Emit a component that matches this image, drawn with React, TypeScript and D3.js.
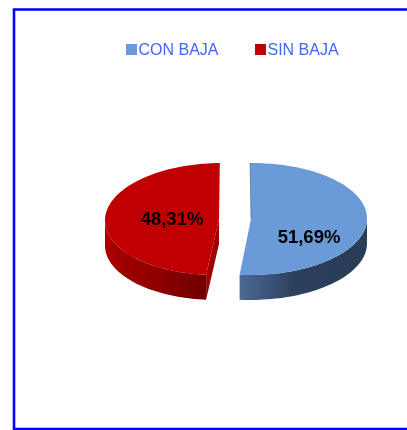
import React from "react";
import * as d3 from "d3";

const categories = ["CON BAJA", "SIN BAJA"];
const shares = [51.69, 48.31];
const shareLabels = ["51,69%", "48,31%"];

const topColors = ["#6a9ad8", "#c00000"];
const wallColors = ["#3a5a82", "#a00000"];
const sideStops = [
  ["#4a6b94", "#2b3f5c", "#2a3c56"],
  ["#a80000", "#900000", "#6e0000"],
];

// each slice sits on its own ellipse because the pieces are pulled apart
const geo = [
  { ax: 251, ay: 219, rx: 116, ry: 56, k: -0.02 },
  { ax: 219, ay: 219, rx: 114, ry: 56, k: -0.05 },
];
const labelPos = [
  [309, 236],
  [172, 218],
];
const legendX = [126, 255];
const depth = 25;
const rad = Math.PI / 180;

export default function App() {
  const pie = d3
    .pie<number>()
    .sort(null)
    .startAngle(-1 * rad)
    .endAngle(359 * rad);
  const slices = pie(shares);

  const line = d3
    .line<[number, number]>()
    .x((d) => d[0])
    .y((d) => d[1]);

  const rim = (i: number, a: number, dy = 0): [number, number] => {
    const g = geo[i];
    const y = -Math.cos(a) * g.ry;
    return [g.ax + Math.sin(a) * g.rx + g.k * y, g.ay + y + dy];
  };
  const angles = (a0: number, a1: number) => {
    const n = Math.max(2, Math.ceil((a1 - a0) / (2 * rad)));
    return d3.range(n + 1).map((j) => a0 + ((a1 - a0) * j) / n);
  };

  return (
    <svg
      width={407}
      height={430}
      style={{ position: "absolute", left: 0, top: 0 }}
      fontFamily="'Liberation Sans', Arial, sans-serif"
    >
      <defs>
        <filter id="soft" x="-5%" y="-5%" width="110%" height="110%">
          <feGaussianBlur stdDeviation="0.55" />
        </filter>
        <filter id="softText" x="-5%" y="-20%" width="110%" height="140%">
          <feGaussianBlur stdDeviation="0.3" />
        </filter>
        {sideStops.map((s, i) => {
          const from = i === 0 ? 239 : 107;
          const to = i === 0 ? 367 : 209;
          return (
            <linearGradient
              key={i}
              id={`side${i}`}
              gradientUnits="userSpaceOnUse"
              x1={from}
              x2={to}
              y1={0}
              y2={0}
            >
              <stop offset="0" stopColor={s[0]} />
              <stop offset="0.45" stopColor={s[1]} />
              <stop offset="1" stopColor={s[2]} />
            </linearGradient>
          );
        })}
      </defs>

      <path
        d="M407,9.5H14V429H407"
        fill="none"
        stroke="#0000ff"
        strokeWidth={2.6}
      />

      <g filter="url(#soft)">
        {slices.map((s, i) => {
          const g = geo[i];
          const apex: [number, number] = [g.ax, g.ay];
          const a0 = Math.max(s.startAngle, 90 * rad);
          const a1 = Math.min(s.endAngle, 270 * rad);
          const front = angles(a0, a1);
          const side = [
            ...front.map((a) => rim(i, a)),
            ...front.slice().reverse().map((a) => rim(i, a, depth)),
          ];
          const face = [
            apex,
            ...angles(s.startAngle, s.endAngle).map((a) => rim(i, a)),
          ];
          // red shows its cut face to the right of the lower rim
          const wall: [number, number][] =
            i === 1
              ? [
                  apex,
                  rim(i, s.startAngle),
                  rim(i, s.startAngle, depth),
                  [apex[0], apex[1] + depth],
                ]
              : [];
          return (
            <g key={categories[i]}>
              {i === 1 && (
                <path d={line(wall) + "Z"} fill={wallColors[i]} />
              )}
              <path d={line(side) + "Z"} fill={`url(#side${i})`} />
              <path d={line(face) + "Z"} fill={topColors[i]} />
              {i === 0 && (
                <path
                  d={line([apex, rim(i, s.startAngle)]) ?? ""}
                  stroke={wallColors[0]}
                  strokeWidth={1}
                  opacity={0.6}
                  fill="none"
                />
              )}
            </g>
          );
        })}
      </g>

      <g filter="url(#softText)">
        {slices.map((s, i) => (
          <text
            key={i}
            x={labelPos[i][0]}
            y={labelPos[i][1]}
            textAnchor="middle"
            dominantBaseline="central"
            fontSize={18.5}
            fontWeight="bold"
            fill="#000"
          >
            {shareLabels[i]}
          </text>
        ))}

        {categories.map((c, i) => (
          <g key={c}>
            <rect
              x={legendX[i]}
              y={44}
              width={11}
              height={11}
              fill={topColors[i]}
            />
            <text x={legendX[i] + 12.5} y={55} fontSize={16} fill="#3f68f4">
              {c}
            </text>
          </g>
        ))}
      </g>
    </svg>
  );
}
